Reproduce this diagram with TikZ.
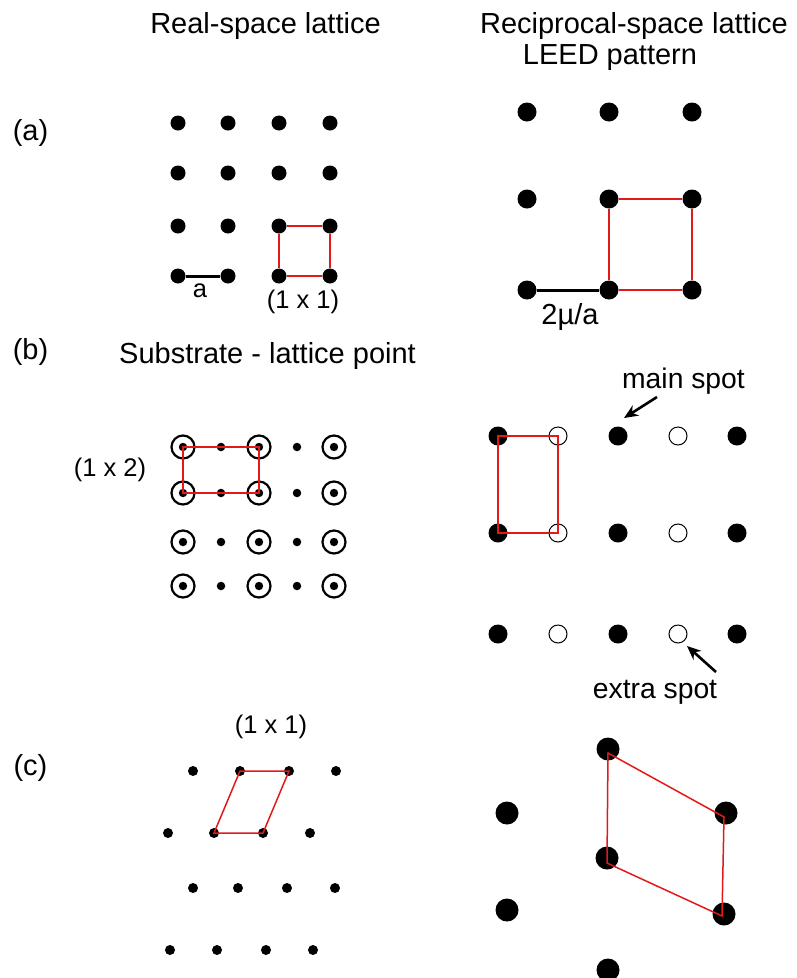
\documentclass[tikz,border=0pt]{standalone}
\usepackage{fontspec}
\setmainfont{Liberation Sans}
\usetikzlibrary{arrows.meta}
\definecolor{cellred}{RGB}{225,25,25}
\begin{document}
\begin{tikzpicture}[x=1pt,y=-1pt,
  lbl/.style={font=\fontsize{29}{33}\selectfont, inner sep=0pt},
  cell/.style={font=\fontsize{25.5}{30}\selectfont, inner sep=0pt},
  spotlbl/.style={font=\fontsize{28.3}{32}\selectfont, inner sep=0pt},
  dotA/.style={circle,fill=black,inner sep=0pt,minimum size=15pt},
  dotK/.style={circle,fill=black,inner sep=0pt,minimum size=19pt},
  ringdot/.style={circle,draw=black,line width=2.2pt,inner sep=0pt,minimum size=23pt,
    path picture={\fill[black] (path picture bounding box.center) circle (4.2pt);}},
  smalldot/.style={circle,fill=black,inner sep=0pt,minimum size=8.5pt},
  openspot/.style={circle,draw=black,line width=1pt,inner sep=0pt,minimum size=18pt},
  dotC/.style={circle,fill=black,inner sep=0pt,minimum size=10pt},
  dotCK/.style={circle,fill=black,inner sep=0pt,minimum size=23pt},
  redline/.style={draw=cellred,line width=1.5pt},
  scalebar/.style={draw=black,line width=3pt},
  arr/.style={draw=black,line width=2.6pt,-{Stealth[length=14pt,width=12pt]}}
]
\useasboundingbox (0,0) rectangle (796,978);

% titles
\node[lbl] (t1) at (265.5,26) {Real-space lattice};
\node[lbl] (t2) at (634,26) {Reciprocal-space lattice};
\node[lbl] (t3) at (610,58) {LEED pattern};
\node[lbl] (la) at (30.5,133) {(a)};
\node[lbl] (lb) at (30.5,352) {(b)};
\node[lbl] (lc) at (30.5,768) {(c)};
\node[lbl] (t4) at (267.5,356) {Substrate - lattice point};

% (a) real space
\foreach \y/\j in {123/1,173/2,226/3,276/4}
  \foreach \x/\i in {178/1,228/2,279/3,330/4}
    \node[dotA] (ra\j\i) at (\x,\y) {};
\draw[redline] (ra33) -- (ra34);
\draw[redline] (ra34) -- (ra44);
\draw[redline] (ra44) -- (ra43);
\draw[redline] (ra43) -- (ra33);
\draw[scalebar] (ra41) -- (ra42);
\node[cell] (asym) at (200,291) {a};
\node[cell] (a11) at (303,302) {(1 x 1)};

% (a) reciprocal
\foreach \y/\j in {112/1,199/2,290/3}
  \foreach \x/\i in {527/1,609/2,692/3}
    \node[dotK] (ka\j\i) at (\x,\y) {};
\draw[redline] (ka22) -- (ka23);
\draw[redline] (ka23) -- (ka33);
\draw[redline] (ka33) -- (ka32);
\draw[redline] (ka32) -- (ka22);
\draw[scalebar] (ka31) -- (ka32);
\node[lbl] (kmu) at (570,317) {2µ/a};

% (b) real space
\foreach \y/\j in {447/1,493/2,542/3,586/4}{
  \node[ringdot] (rb\j1) at (183,\y) {};
  \node[smalldot] (rb\j2) at (221,\y) {};
  \node[ringdot] (rb\j3) at (259,\y) {};
  \node[smalldot] (rb\j4) at (297,\y) {};
  \node[ringdot] (rb\j5) at (334,\y) {};
}
\draw[redline] (rb11.center) -- (rb13.center) -- (rb23.center) -- (rb21.center) -- cycle;
\node[cell] (b12) at (110,470) {(1 x 2)};

% (b) reciprocal
\foreach \y/\j in {436/1,533/2,634/3}{
  \node[dotK] (kb\j1) at (498,\y) {};
  \node[openspot] (kb\j2) at (558,\y) {};
  \node[dotK] (kb\j3) at (618,\y) {};
  \node[openspot] (kb\j4) at (678,\y) {};
  \node[dotK] (kb\j5) at (737,\y) {};
}
\draw[redline] (kb11.center) -- (kb12.center) -- (kb22.center) -- (kb21.center) -- cycle;
\node[spotlbl] (mainlbl) at (683.5,381) {main spot};
\coordinate (mainTail) at (657,397);
\coordinate (mainHead) at (624,418);
\draw[arr] (mainTail) -- (mainHead);
\node[spotlbl] (extralbl) at (655,692) {extra spot};
\coordinate (extraTail) at (716,672);
\coordinate (extraHead) at (687,646);
\draw[arr] (extraTail) -- (extraHead);

% (c) real space
\node[cell] (c11) at (271,727) {(1 x 1)};
\node[dotC] (rc11) at (193,771) {};
\node[dotC] (rc12) at (240,771) {};
\node[dotC] (rc13) at (289,771) {};
\node[dotC] (rc14) at (336,771) {};
\node[dotC] (rc21) at (168,833) {};
\node[dotC] (rc22) at (214,833) {};
\node[dotC] (rc23) at (263,833) {};
\node[dotC] (rc24) at (310,833) {};
\node[dotC] (rc31) at (193,888) {};
\node[dotC] (rc32) at (238,888) {};
\node[dotC] (rc33) at (287,888) {};
\node[dotC] (rc34) at (335,888) {};
\node[dotC] (rc41) at (170,950) {};
\node[dotC] (rc42) at (217,950) {};
\node[dotC] (rc43) at (266,950) {};
\node[dotC] (rc44) at (313,950) {};
\draw[redline] (rc12.center) -- (rc13.center) -- (rc23.center) -- (rc22.center) -- cycle;

% (c) reciprocal
\node[dotCK] (kc1) at (608,749) {};
\node[dotCK] (kc2) at (507,813) {};
\node[dotCK] (kc3) at (726,813) {};
\node[dotCK] (kc4) at (607,858) {};
\node[dotCK] (kc5) at (507,910) {};
\node[dotCK] (kc6) at (724,914) {};
\node[dotCK] (kc7) at (608,970) {};
\draw[redline] ([yshift=-4pt]kc1.center) -- ([shift={(-2pt,-4pt)}]kc3.center) -- ([shift={(-2pt,-2pt)}]kc6.center) -- ([yshift=-5pt]kc4.center) -- cycle;
\end{tikzpicture}
\end{document}
